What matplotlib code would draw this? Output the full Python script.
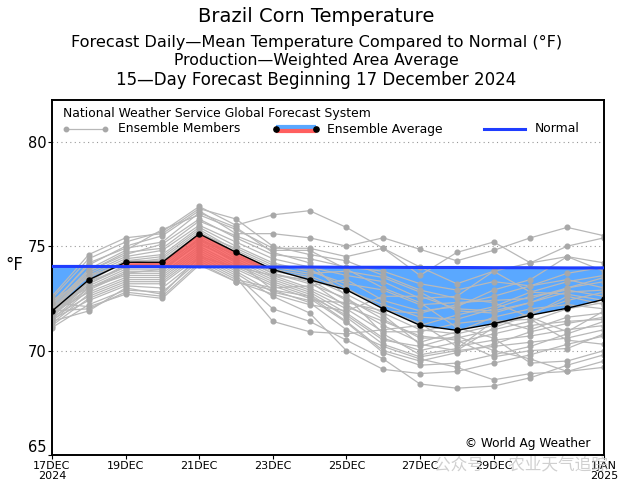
import matplotlib
matplotlib.use("Agg")
import matplotlib.pyplot as plt
import numpy as np

plt.rcParams['font.family'] = ['DejaVu Sans', 'Noto Sans CJK SC']

# ---------------- data ----------------
days = list(range(16))
tick_days = [0, 2, 4, 6, 8, 10, 12, 15]
tick_labels = ["17DEC\n2024", "19DEC", "21DEC", "23DEC", "25DEC", "27DEC", "29DEC", "1JAN\n2025"]

ensemble_avg = [71.89, 73.39, 74.23, 74.23, 75.59, 74.71, 73.88, 73.39,
                72.91, 72.00, 71.21, 70.97, 71.29, 71.69, 72.03, 72.45]
normal = [74.03, 74.03, 74.02, 74.02, 74.01, 74.01, 74.00, 74.00,
          73.99, 73.99, 73.98, 73.98, 73.97, 73.97, 73.96, 73.96]

m01 = [72.5, 74.4, 75.2, 75.7, 76.9, 76.0, 76.5, 76.7, 75.9, 74.9, 74.0, 73.2, 73.8, 74.2, 75.0, 75.4]
m02 = [72.3, 74.1, 75.0, 75.5, 76.7, 75.6, 75.6, 75.4, 75.0, 75.4, 74.85, 74.3, 74.8, 75.4, 75.9, 75.5]
m03 = [72.1, 73.9, 74.8, 75.8, 76.5, 75.8, 74.9, 74.9, 74.5, 74.9, 73.6, 74.7, 75.2, 74.2, 74.5, 74.2]
m04 = [72.2, 73.8, 74.6, 75.1, 76.3, 75.4, 74.6, 74.4, 74.0, 73.8, 73.2, 72.9, 73.3, 73.1, 73.7, 74.0]
m05 = [72.0, 73.7, 74.5, 74.8, 76.0, 75.2, 74.4, 74.0, 73.6, 73.3, 72.5, 72.6, 73.8, 72.8, 73.3, 73.6]
m06 = [71.9, 73.6, 74.4, 74.6, 75.9, 75.0, 74.2, 73.8, 73.2, 72.9, 72.2, 72.3, 72.4, 72.5, 73.0, 73.3]
m07 = [72.4, 73.5, 74.3, 74.5, 75.8, 74.8, 74.0, 73.7, 73.8, 73.5, 72.8, 71.9, 71.8, 72.3, 72.8, 72.9]
m08 = [71.8, 73.4, 74.2, 74.4, 75.7, 74.7, 73.9, 73.6, 72.9, 72.2, 71.6, 71.5, 72.0, 72.6, 72.9, 72.6]
m09 = [71.7, 73.3, 74.3, 74.3, 75.6, 74.6, 73.8, 73.5, 72.7, 71.8, 71.0, 70.8, 71.2, 71.8, 72.4, 72.8]
m10 = [72.0, 73.6, 74.1, 74.2, 75.5, 74.5, 73.7, 73.2, 72.5, 71.5, 70.6, 70.6, 71.0, 71.4, 72.0, 72.3]
m11 = [71.6, 73.2, 74.0, 74.0, 75.4, 74.4, 73.6, 73.0, 72.2, 71.2, 70.4, 70.9, 71.6, 72.0, 72.2, 72.0]
m12 = [71.9, 73.1, 73.9, 73.9, 75.3, 74.3, 73.5, 72.9, 72.0, 70.9, 70.9, 71.3, 71.5, 71.0, 71.6, 71.8]
m13 = [71.5, 73.0, 73.8, 73.8, 75.2, 74.2, 73.4, 72.8, 71.8, 70.6, 70.0, 70.4, 70.8, 71.2, 71.4, 71.5]
m14 = [71.7, 73.2, 74.1, 74.1, 75.6, 74.9, 74.1, 73.9, 73.0, 72.0, 71.3, 70.2, 70.5, 70.7, 71.0, 71.2]
m15 = [71.4, 72.9, 73.7, 73.7, 75.0, 74.1, 73.3, 72.7, 71.6, 70.3, 69.7, 70.0, 70.2, 70.4, 70.6, 71.0]
m16 = [72.1, 73.0, 73.6, 73.6, 74.9, 74.0, 73.2, 72.6, 71.4, 70.0, 69.5, 69.9, 70.3, 70.9, 71.3, 71.6]
m17 = [71.8, 72.8, 73.5, 73.5, 74.8, 73.9, 73.1, 72.5, 71.35, 69.9, 69.3, 69.4, 69.8, 70.2, 70.8, 71.4]
m18 = [71.3, 72.7, 73.4, 73.4, 74.7, 73.8, 72.8, 72.4, 72.3, 71.9, 71.8, 72.2, 72.6, 73.1, 73.4, 73.0]
m19 = [71.6, 72.6, 73.3, 73.3, 74.6, 73.7, 72.6, 71.8, 70.0, 69.1, 68.9, 69.0, 69.4, 69.8, 70.3, 70.7]
m20 = [71.2, 72.5, 73.2, 73.2, 74.5, 73.6, 72.0, 71.4, 70.5, 69.6, 68.4, 68.2, 68.3, 68.7, 69.3, 69.8]
m21 = [71.5, 72.4, 73.1, 73.0, 74.4, 73.5, 71.4, 70.9, 70.8, 71.0, 71.2, 71.7, 72.1, 72.8, 72.7, 72.4]
m22 = [71.1, 72.2, 72.9, 72.8, 74.3, 73.4, 73.0, 73.1, 73.4, 72.4, 71.9, 72.1, 72.9, 73.4, 74.5, 73.8]
m23 = [71.9, 72.0, 72.8, 72.6, 74.2, 73.3, 72.9, 72.3, 71.0, 70.2, 69.6, 69.2, 68.6, 68.9, 69.0, 69.2]
m24 = [72.6, 74.6, 75.4, 75.6, 76.8, 76.3, 75.0, 74.6, 74.3, 73.6, 72.9, 72.5, 72.3, 71.6, 70.9, 71.9]
m25 = [72.2, 74.2, 74.9, 75.2, 76.6, 75.9, 74.7, 74.2, 72.6, 70.8, 69.8, 70.1, 71.4, 71.5, 70.5, 70.3]
m26 = [72.0, 73.8, 74.7, 74.9, 76.2, 75.5, 74.8, 74.8, 73.9, 73.0, 72.3, 71.1, 70.6, 69.4, 69.5, 70.0]
m27 = [71.8, 73.3, 74.0, 74.2, 75.3, 74.6, 73.7, 73.3, 72.1, 71.4, 70.7, 70.5, 69.7, 70.0, 70.1, 70.8]
m28 = [71.7, 73.0, 73.7, 73.9, 75.1, 74.3, 72.9, 72.6, 71.7, 70.5, 70.2, 70.7, 70.0, 69.6, 69.0, 69.5]
m29 = [72.3, 72.1, 72.7, 72.5, 74.1, 73.3, 72.7, 72.2, 71.9, 72.6, 72.6, 72.0, 71.9, 72.3, 73.0, 73.5]
m30 = [71.4, 71.9, 73.0, 72.7, 74.5, 74.0, 73.6, 73.4, 72.4, 71.7, 70.3, 70.0, 71.1, 71.7, 72.6, 72.2]
members = [m01, m02, m03, m04, m05, m06, m07, m08, m09, m10, m11, m12, m13, m14, m15,
           m16, m17, m18, m19, m20, m21, m22, m23, m24, m25, m26, m27, m28, m29, m30]

# ---------------- figure ----------------
fig = plt.figure(figsize=(6.33, 4.90), dpi=100)
ax = fig.add_axes([52/633, 1-455/490, (604-52)/633, (455-100)/490])

x = np.array(days, dtype=float)
avg = np.array(ensemble_avg)
nrm = np.array(normal)
ax.fill_between(x, avg, nrm, where=avg <= nrm, interpolate=True,
                facecolor='#5aa8ff', edgecolor='none', zorder=1)

for m in members:
    ax.plot(days, m, color='#b8b8b8', lw=0.9, marker='o', ms=3.4,
            mfc='#a8a8a8', mec='#a8a8a8', zorder=2)

ax.fill_between(x, avg, nrm, where=avg >= nrm, interpolate=True,
                facecolor='#ff4f4f', edgecolor='none', alpha=0.75, zorder=3)

ax.plot(days, ensemble_avg, color='black', lw=1.0, marker='o', ms=3.6, zorder=4)
ax.plot(days, normal, color='#1f3dff', lw=2.2, zorder=5)

ax.set_xlim(0, 15)
ax.set_ylim(65, 82)
ax.set_yticks([65, 70, 75, 80])
ax.set_yticklabels(["65", "70", "75", "80"], fontsize=10.5)
ax.set_xticks(tick_days)
ax.set_xticklabels(tick_labels, fontsize=8, linespacing=0.95)
ax.tick_params(axis='x', direction='out', length=3, width=0.8, pad=1.5)
ax.tick_params(axis='y', direction='out', length=3, width=0.8, pad=1)
ax.get_yticklabels()[0].set_va('bottom')
for yv in [70, 75, 80]:
    ax.axhline(yv, color='#999999', lw=0.8, ls=(0, (1, 3)), zorder=0.5)
for s in ax.spines.values():
    s.set_linewidth(1.4)

ax.set_ylabel("°F", fontsize=12, rotation=0, va='center', ha='center')
ax.yaxis.set_label_coords(-0.068, (455-265)/355)

# titles
fig.text(0.5, 1-17/490, "Brazil Corn Temperature", ha='center', va='center', fontsize=14)
fig.text(0.5, 1-42/490, "Forecast Daily\u2014Mean Temperature Compared to Normal (°F)",
         ha='center', va='center', fontsize=11.6)
fig.text(0.5, 1-61/490, "Production\u2014Weighted Area Average", ha='center', va='center', fontsize=11.3)
fig.text(0.5, 1-80/490, "15\u2014Day Forecast Beginning 17 December 2024", ha='center', va='center', fontsize=12)

# legend area drawn in axes coordinates
T = ax.transAxes
def ax_xy(px, py):
    return ((px-52)/552, (455-py)/355)

lx, ly = ax_xy(63, 114)
ax.text(lx, ly, "National Weather Service Global Forecast System", transform=T,
        fontsize=8.9, va='center', ha='left')
x0, y0 = ax_xy(66, 129)
x1, _ = ax_xy(105, 129)
ax.plot([x0, x1], [y0, y0], transform=T, color='#b8b8b8', lw=0.9, marker='o', ms=3.2,
        mfc='#a8a8a8', mec='#a8a8a8', clip_on=False)
tx, _ = ax_xy(118, 129)
ax.text(tx, y0, "Ensemble Members", transform=T, fontsize=8.9, va='center')
a0, _ = ax_xy(276, 129)
a1, _ = ax_xy(316, 129)
yb = ax_xy(0, 127.5)[1]
yr = ax_xy(0, 131)[1]
ax.plot([a0, a1], [yb, yb], transform=T, color='#5aa8ff', lw=3, solid_capstyle='butt')
ax.plot([a0, a1], [yr, yr], transform=T, color='#ff5f5f', lw=3, solid_capstyle='butt')
ax.plot([a0, a1], [y0, y0], transform=T, color='black', lw=0.8, marker='o', ms=3.8, ls='none')
tx2, _ = ax_xy(327, 129)
ax.text(tx2, y0, "Ensemble Average", transform=T, fontsize=8.9, va='center')
n0, _ = ax_xy(484, 129)
n1, _ = ax_xy(525, 129)
ax.plot([n0, n1], [y0, y0], transform=T, color='#1f3dff', lw=2.2)
tx3, _ = ax_xy(535, 129)
ax.text(tx3, y0, "Normal", transform=T, fontsize=8.9, va='center')

cx, cy = ax_xy(590, 443)
ax.text(cx, cy, "© World Ag Weather", transform=T, fontsize=8.7, ha='right', va='center')

# watermark
fig.text(521/633, 1-465/490, "公众号 · 农业天气追踪", ha='center', va='center', fontsize=12,
         color='#c8c8c8', alpha=0.85, family=['Noto Sans CJK SC', 'DejaVu Sans'])

fig.savefig("out.png", dpi=100)
